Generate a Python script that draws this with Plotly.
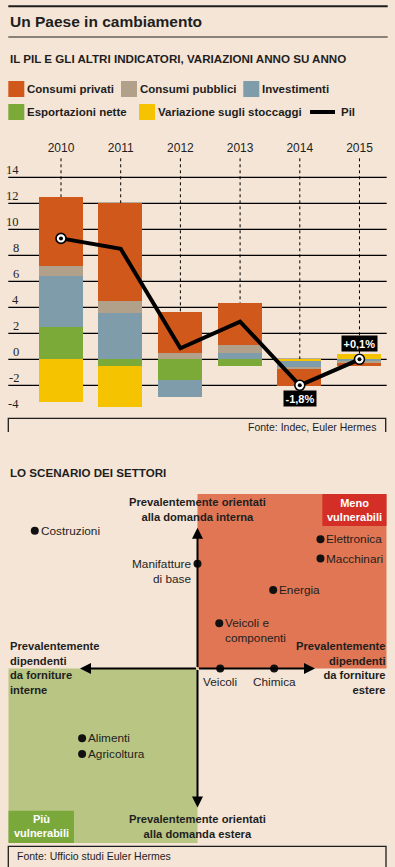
import plotly.graph_objects as go

W, H = 395, 867
BG = "#F4E5D6"
INK = "#1E1E1E"
FONT = "Liberation Sans Narrow, Liberation Sans, Arial, sans-serif"
SERIF = "Liberation Serif, DejaVu Serif, serif"


def px_x(v):
    return v / W


def px_y(v):
    return 1 - v / H


# ---------------- data: bar chart ----------------
years = [2010, 2011, 2012, 2013, 2014, 2015]
consumi_privati = [5.3, 7.5, 3.1, 3.2, -1.3, -0.28]
consumi_pubblici = [0.8, 0.95, 0.5, 0.6, -0.17, -0.12]
investimenti = [3.9, 3.55, -1.3, 0.5, -0.42, -0.15]
esportazioni_nette = [2.5, -0.5, -1.6, -0.5, 0.0, 0.0]
variazione_stoccaggi = [-3.3, -3.2, 0.0, 0.0, -0.15, 0.4]
pil = [9.3, 8.5, 0.85, 2.9, -2.0, 0.0]
pil_labels = ["", "", "", "", "-1,8%", "+0,1%"]
pil_marked = [True, False, False, False, True, True]
y_tick_values = [-4, -2, 0, 2, 4, 6, 8, 10, 12, 14]
grid_values = [-2, 0, 2, 4, 6, 8, 10, 12, 14]
# years where the stock change sits next to zero in the stack
stock_first_years = [2014]

# ---------------- data: sector scatter ----------------
sectors = ["Costruzioni", "Elettronica", "Macchinari", "Manifatture<br>di base", "Energia",
           "Veicoli e<br>componenti", "Veicoli", "Chimica", "Alimenti", "Agricoltura"]
sector_x = [-8.6, 6.5, 6.5, 0.0, 4.0, 1.15, 1.2, 4.05, -6.1, -6.1]
sector_y = [7.9, 7.4, 6.3, 6.0, 4.5, 2.6, 0.0, 0.0, -4.0, -4.9]
sector_label_side = ["right", "right", "right", "left2", "right", "right2", "below", "below", "right", "right"]

# colours
C_PRIV = "#D1581B"
C_PUBB = "#B2A18A"
C_INV = "#7F9CAA"
C_EXP = "#7BAA38"
C_STO = "#F5C300"
C_QUAD_OR = "#E07653"
C_QUAD_GR = "#B8C583"
C_RED = "#D42F26"
C_DKGR = "#7BA83B"

fig = go.Figure()

BAR_W = 0.737
stock_first = [v if y in stock_first_years else None for y, v in zip(years, variazione_stoccaggi)]
stock_rest = [None if y in stock_first_years else v for y, v in zip(years, variazione_stoccaggi)]

series = [
    ("Variazione sugli stoccaggi", stock_first, C_STO),
    ("Esportazioni nette", esportazioni_nette, C_EXP),
    ("Investimenti", investimenti, C_INV),
    ("Consumi pubblici", consumi_pubblici, C_PUBB),
    ("Consumi privati", consumi_privati, C_PRIV),
    ("Variazione sugli stoccaggi", stock_rest, C_STO),
]
for name, vals, col in series:
    fig.add_trace(go.Bar(x=years, y=vals, name=name, marker=dict(color=col, line=dict(width=0)),
                         width=BAR_W, showlegend=False, xaxis="x", yaxis="y", hoverinfo="skip"))

fig.add_trace(go.Scatter(x=years, y=pil, mode="lines", line=dict(color="#000", width=4),
                         showlegend=False, xaxis="x", yaxis="y", hoverinfo="skip"))
mk_x = [x for x, m in zip(years, pil_marked) if m]
mk_y = [v for v, m in zip(pil, pil_marked) if m]
fig.add_trace(go.Scatter(x=mk_x, y=mk_y, mode="markers",
                         marker=dict(size=10, color="#FFFFFF", line=dict(color="#000", width=1.6)),
                         showlegend=False, xaxis="x", yaxis="y", hoverinfo="skip"))
fig.add_trace(go.Scatter(x=mk_x, y=mk_y, mode="markers", marker=dict(size=4, color="#000"),
                         showlegend=False, xaxis="x", yaxis="y", hoverinfo="skip"))

# sectors scatter
fig.add_trace(go.Scatter(x=sector_x, y=sector_y, mode="markers", marker=dict(size=8, color="#111"),
                         showlegend=False, xaxis="x2", yaxis="y2", hoverinfo="skip"))

shapes = []
ann = []

# top rules
shapes.append(dict(type="line", xref="paper", yref="paper", x0=px_x(8.3), x1=px_x(387.7),
                   y0=px_y(6.3), y1=px_y(6.3), line=dict(color=INK, width=2)))
shapes.append(dict(type="line", xref="paper", yref="paper", x0=px_x(8.3), x1=px_x(387.7),
                   y0=px_y(37), y1=px_y(37), line=dict(color=INK, width=1)))

ann.append(dict(text="<b>Un Paese in cambiamento</b>", x=px_x(7.5), y=px_y(22), xref="paper", yref="paper",
                xanchor="left", yanchor="middle", showarrow=False, font=dict(family=FONT, size=15.5, color=INK)))
ann.append(dict(text="<b>IL PIL E GLI ALTRI INDICATORI, VARIAZIONI ANNO SU ANNO</b>", x=px_x(7.5), y=px_y(58.5),
                xref="paper", yref="paper", xanchor="left", yanchor="middle", showarrow=False,
                font=dict(family=FONT, size=11.6, color=INK)))

# legend (custom)
legend_items = [
    ("Consumi privati", C_PRIV, 8.3, 89, "sq"),
    ("Consumi pubblici", C_PUBB, 121, 89, "sq"),
    ("Investimenti", C_INV, 243.3, 89, "sq"),
    ("Esportazioni nette", C_EXP, 8.3, 112, "sq"),
    ("Variazione sugli stoccaggi", C_STO, 139, 112, "sq"),
    ("Pil", "#000", 310, 112, "line"),
]
for label, col, lx, ly, kind in legend_items:
    if kind == "sq":
        shapes.append(dict(type="rect", xref="paper", yref="paper", x0=px_x(lx), x1=px_x(lx + 16),
                           y0=px_y(ly - 8), y1=px_y(ly + 8), fillcolor=col, line=dict(width=0)))
        tx = lx + 17
    else:
        shapes.append(dict(type="line", xref="paper", yref="paper", x0=px_x(lx), x1=px_x(lx + 25),
                           y0=px_y(ly), y1=px_y(ly), line=dict(color=col, width=4)))
        tx = lx + 29
    ann.append(dict(text="<b>%s</b>" % label, x=px_x(tx), y=px_y(ly), xref="paper", yref="paper",
                    xanchor="left", yanchor="middle", showarrow=False,
                    font=dict(family=FONT, size=11.5, color=INK)))

# y grid lines and dotted year lines
for g in grid_values:
    shapes.append(dict(type="line", xref="paper", yref="y", x0=px_x(8.3), x1=px_x(386.7), y0=g, y1=g,
                       line=dict(color="#000", width=1.3), layer="below"))
Y_TOP = 15.56
for yr in years:
    shapes.append(dict(type="line", xref="x", yref="y", x0=yr, x1=yr, y0=0, y1=Y_TOP,
                       line=dict(color="#000", width=1, dash="dot"), layer="below"))
for t in y_tick_values:
    ann.append(dict(text=str(t), x=px_x(21), y=t, xref="paper", yref="y", xanchor="right",
                    yanchor="middle", yshift=7.5, showarrow=False,
                    font=dict(family=SERIF, size=12.5, color=INK)))

# PIL value labels
for yr, v, lab in zip(years, pil, pil_labels):
    if lab:
        up = v >= 0
        ann.append(dict(text="<b>%s</b>" % lab, x=yr, y=v, xref="x", yref="y", xanchor="center",
                        yanchor="middle", yshift=16 if up else -13.5, showarrow=False,
                        bgcolor="#000", borderpad=1.5,
                        font=dict(family=FONT, size=11, color="#FFFFFF")))

# source box 1
shapes.append(dict(type="path", xref="paper", yref="paper",
                   path="M %f,%f L %f,%f L %f,%f L %f,%f" % (px_x(8.3), px_y(432), px_x(8.3), px_y(418.3),
                                                           px_x(385.7), px_y(418.3), px_x(385.7), px_y(432)),
                   line=dict(color=INK, width=1.3)))
ann.append(dict(text="Fonte: Indec, Euler Hermes", x=px_x(378), y=px_y(427.3), xref="paper", yref="paper",
                xanchor="right", yanchor="middle", showarrow=False, font=dict(family=FONT, size=10.5, color=INK)))

# ---------------- sector scenario ----------------
ann.append(dict(text="<b>LO SCENARIO DEI SETTORI</b>", x=px_x(7.5), y=px_y(472), xref="paper", yref="paper",
                xanchor="left", yanchor="middle", showarrow=False, font=dict(family=FONT, size=11.6, color=INK)))

shapes.append(dict(type="rect", xref="x2", yref="y2", x0=0, x1=10, y0=0, y1=10, fillcolor=C_QUAD_OR,
                   line=dict(width=0), layer="below"))
shapes.append(dict(type="rect", xref="x2", yref="y2", x0=-10, x1=0, y0=-10, y1=0, fillcolor=C_QUAD_GR,
                   line=dict(width=0), layer="below"))
shapes.append(dict(type="rect", xref="x2", yref="y2", x0=6.6, x1=10, y0=8.17, y1=10, fillcolor=C_RED,
                   line=dict(width=0), layer="below"))
shapes.append(dict(type="rect", xref="x2", yref="y2", x0=-10, x1=-6.53, y0=-10, y1=-8.15, fillcolor=C_DKGR,
                   line=dict(width=0), layer="below"))

BOX_FONT = dict(family=FONT, size=11, color="#FFFFFF")
ann.append(dict(text="<b>Meno<br>vulnerabili</b>", x=8.3, y=9.1, xref="x2", yref="y2", xanchor="center",
                yanchor="middle", showarrow=False, font=BOX_FONT))
ann.append(dict(text="<b>Più<br>vulnerabili</b>", x=-8.27, y=-9.05, xref="x2", yref="y2", xanchor="center",
                yanchor="middle", showarrow=False, font=BOX_FONT))

# axes with arrows
for tx, ty in [(0, 8.06), (0, -7.97), (-6.21, 0), (6.21, 0)]:
    ann.append(dict(text="", x=tx, y=ty, xref="x2", yref="y2", ax=0, ay=0, axref="x2", ayref="y2",
                    showarrow=True, arrowhead=2, arrowsize=1.1, arrowwidth=2, arrowcolor="#000",
                    standoff=0, startstandoff=0))

AX_FONT = dict(family=FONT, size=11.2, color=INK)
ann.append(dict(text="<b>Prevalentemente orientati<br>alla domanda interna</b>", x=0, y=9.12, xref="x2",
                yref="y2", xanchor="center", yanchor="middle", showarrow=False, font=AX_FONT))
ann.append(dict(text="<b>Prevalentemente orientati<br>alla domanda estera</b>", x=0, y=-9.06, xref="x2",
                yref="y2", xanchor="center", yanchor="middle", showarrow=False, font=AX_FONT))
ann.append(dict(text="<b>Prevalentemente<br>dipendenti<br>da forniture<br>interne</b>", x=px_x(7.5),
                y=px_y(667.5), xref="paper", yref="paper", xanchor="left", yanchor="middle", align="left",
                showarrow=False, font=AX_FONT))
ann.append(dict(text="<b>Prevalentemente<br>dipendenti<br>da forniture<br>estere</b>", x=px_x(387.5),
                y=px_y(667.5), xref="paper", yref="paper", xanchor="right", yanchor="middle", align="right",
                showarrow=False, font=AX_FONT))

LBL_FONT = dict(family=FONT, size=11.8, color=INK)
for name, sx, sy, side in zip(sectors, sector_x, sector_y, sector_label_side):
    a = dict(text=name, x=sx, y=sy, xref="x2", yref="y2", showarrow=False, font=LBL_FONT)
    if side == "right":
        a.update(xanchor="left", yanchor="middle", xshift=4)
    elif side == "right2":
        a.update(xanchor="left", yanchor="top", xshift=4, yshift=9, align="left")
    elif side == "left2":
        a.update(xanchor="right", yanchor="top", xshift=-5, yshift=9, align="right")
    else:
        a.update(xanchor="center", yanchor="top", yshift=-4)
    ann.append(a)

# source box 2
shapes.append(dict(type="path", xref="paper", yref="paper",
                   path="M %f,%f L %f,%f L %f,%f L %f,%f" % (px_x(8.3), px_y(870), px_x(8.3), px_y(846.3),
                                                           px_x(386), px_y(846.3), px_x(386), px_y(870)),
                   line=dict(color=INK, width=1.3)))
ann.append(dict(text="Fonte: Ufficio studi Euler Hermes", x=px_x(15), y=px_y(855.5), xref="paper", yref="paper",
                xanchor="left", yanchor="middle", showarrow=False, font=dict(family=FONT, size=10.5, color=INK)))

fig.update_layout(
    width=W, height=H, margin=dict(l=0, r=0, t=0, b=0),
    paper_bgcolor=BG, plot_bgcolor="rgba(0,0,0,0)",
    barmode="relative", bargap=0, showlegend=False,
    shapes=shapes, annotations=ann,
    xaxis=dict(domain=[px_x(8.3), px_x(386.7)], range=[2010 - 0.883, 2015 + 0.456], side="top",
               tickvals=years, ticktext=[str(y) for y in years], ticks="", showgrid=False, zeroline=False,
               showline=False, tickfont=dict(family=FONT, size=12, color=INK), ticklabelstandoff=2,
               fixedrange=True),
    yaxis=dict(domain=[px_y(417.8), px_y(157)], range=[-4.5, Y_TOP], showgrid=False, zeroline=False,
               showticklabels=False, ticks="", showline=False, fixedrange=True),
    xaxis2=dict(domain=[px_x(8.3), px_x(386.7)], range=[-10, 10], visible=False, fixedrange=True),
    yaxis2=dict(domain=[px_y(843), px_y(494)], range=[-10, 10], visible=False, fixedrange=True),
)

fig.write_html("out.html", config={"displayModeBar": False},
               post_script="document.body.style.margin='0';document.body.style.padding='0';"
                           "document.documentElement.style.background='%s';" % BG)
